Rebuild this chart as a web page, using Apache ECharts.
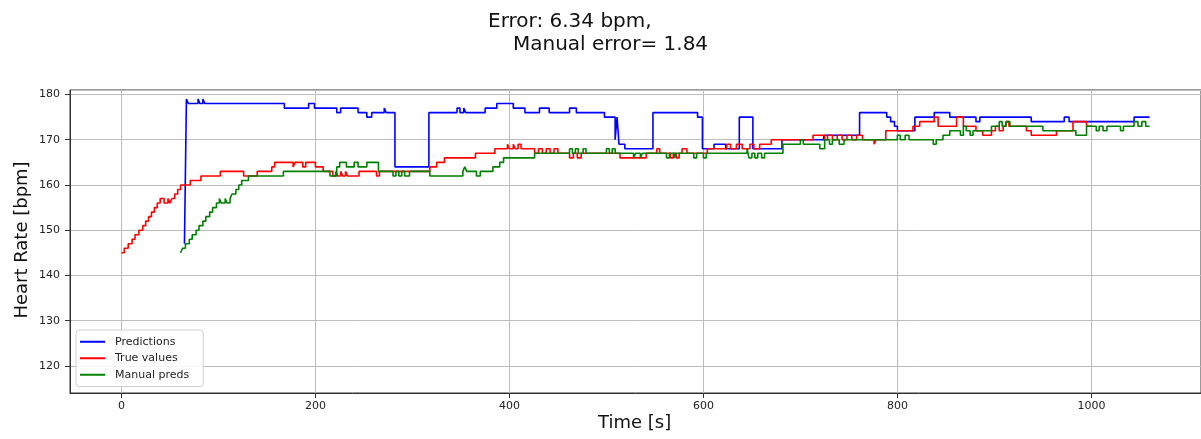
<!DOCTYPE html>
<html>
<head>
<meta charset="utf-8">
<script src="https://cdn.jsdelivr.net/npm/echarts@6/dist/echarts.min.js"></script>
<style>
html,body{margin:0;padding:0;background:#fff;}
#chart{width:1201px;height:439px;}
</style>
</head>
<body>
<div id="chart"></div>
<script>
// ---- Data ----
var titleLine1 = 'Error: 6.34 bpm,';
var titleLine2 = 'Manual error= 1.84';
var xAxisTitle = 'Time [s]';
var yAxisTitle = 'Heart Rate [bpm]';
var seriesNames = ['Predictions', 'True values', 'Manual preds'];

var predTimes  = [65,67,69,79,81,84,86,168,193,199,222,226,244,253,258,271,273,282,317,346,349,353,355,375,387,404,416,431,441,462,469,498,509,511,513,519,548,594,599,611,623,637,651,681,724,761,789,793,797,800,818,838,854,881,885,938,972,977,1044,1060];
var predValues = [147,179,178,179,178,179,178,177,178,177,176,177,176,175,176,177,176,164,176,177,176,177,176,177,178,177,176,177,176,177,176,175,170,175,169,168,176,175,168,169,168,175,168,170,171,176,175,174,173,172,175,176,175,174,175,174,175,174,175,175];

var trueTimes  = [0,3,7,11,14,18,22,25,28,31,34,37,40,44,48,50,52,55,58,61,71,82,102,126,140,155,158,177,179,187,190,200,208,218,221,223,226,228,231,233,245,263,266,318,325,333,365,385,398,400,404,406,409,412,426,430,434,438,442,446,450,462,466,470,474,514,541,552,555,566,569,572,575,578,583,604,624,628,634,640,648,652,658,670,713,725,728,733,738,743,748,753,758,764,776,778,788,816,823,838,842,861,868,881,888,897,901,905,909,912,915,933,938,964,981,995,1000];
var trueValues = [145,146,147,148,149,150,151,152,153,154,155,156,157,156,157,156,157,158,159,160,161,162,163,162,163,164,165,164,165,164,165,164,163,162,163,162,163,162,163,162,163,162,163,164,165,166,167,168,169,168,169,168,169,168,167,168,167,168,167,168,167,166,167,166,167,166,167,168,167,166,167,166,167,168,167,168,169,168,169,168,169,168,169,170,171,170,171,170,171,170,171,170,171,170,169,170,172,173,174,175,173,175,173,172,171,172,173,172,173,174,173,172,171,172,174,173,173];

var manualTimes  = [61,63,66,70,73,77,80,84,87,91,94,98,101,103,107,109,112,114,118,121,124,131,167,215,222,225,232,240,244,253,265,280,283,286,289,292,297,318,352,354,356,366,370,383,390,394,426,462,465,468,471,476,479,500,503,506,509,528,530,535,537,562,565,570,572,590,593,600,603,645,647,650,653,656,660,663,682,700,703,720,725,730,733,740,745,800,803,808,812,837,840,847,854,865,868,871,875,878,897,905,908,912,916,950,984,995,1005,1008,1012,1016,1030,1033,1044,1048,1052,1056,1060];
var manualValues = [145,146,147,148,149,150,151,152,153,154,155,156,157,156,157,156,157,158,159,160,161,162,163,162,164,165,164,165,164,165,163,162,163,162,163,162,163,162,163,164,163,162,163,164,165,166,167,168,167,168,167,168,167,168,167,168,167,166,167,166,167,166,167,166,167,166,167,166,167,168,166,167,166,167,166,167,169,170,169,168,170,169,170,169,170,171,170,171,170,169,170,171,172,171,173,172,171,172,173,174,173,174,173,172,171,173,172,173,172,173,172,173,174,173,174,173,173];

var seriesColors = ['#0000ff', '#ff0000', '#008000'];

function zip(t, v) { return t.map(function (x, i) { return [x, v[i]]; }); }

var FONT = 'DejaVu Sans';
var chart = echarts.init(document.getElementById('chart'), null, {renderer: 'canvas'});

var option = {
  animation: false,
  backgroundColor: '#ffffff',
  grid: {
    left: 70, right: 0, top: 90, bottom: 46,
    show: true, borderColor: '#333333', borderWidth: 1, backgroundColor: 'transparent'
  },
  xAxis: {
    type: 'value', min: -53, max: 1113, minInterval: 200, maxInterval: 200,
    axisLine: {show: true, onZero: false, lineStyle: {color: '#333333', width: 1}},
    axisTick: {show: true, length: 5, lineStyle: {color: '#333333'}},
    axisLabel: {show: true, showMinLabel: false, showMaxLabel: false, margin: 8, color: '#222222', fontSize: 11, fontFamily: FONT,
                formatter: function (v) { return String(v); }},
    splitLine: {show: true, lineStyle: {color: '#bdbdbd', width: 1}}
  },
  yAxis: {
    type: 'value', min: 114, max: 181, minInterval: 10, maxInterval: 10,
    axisLine: {show: true, onZero: false, lineStyle: {color: '#333333', width: 1}},
    axisTick: {show: true, length: 5, lineStyle: {color: '#333333'}},
    axisLabel: {show: true, showMinLabel: false, showMaxLabel: false, margin: 10, color: '#222222', fontSize: 11, fontFamily: FONT,
                formatter: function (v) { return String(v); }},
    splitLine: {show: true, lineStyle: {color: '#bdbdbd', width: 1}}
  },
  legend: {
    orient: 'vertical', left: 76, top: 330,
    padding: [5, 14, 5, 4], itemGap: 3, itemWidth: 25, itemHeight: 2,
    backgroundColor: 'rgba(255,255,255,0.85)', borderColor: '#d0d0d0', borderWidth: 1, borderRadius: 3,
    icon: 'rect',
    textStyle: {fontSize: 11, fontFamily: FONT, color: '#222222', lineHeight: 13.5, padding: [0, 0, 0, 5]},
    data: seriesNames
  },
  series: [
    {name: seriesNames[0], type: 'line', step: 'end', symbol: 'none', data: zip(predTimes, predValues),
     itemStyle: {color: seriesColors[0]}, lineStyle: {color: seriesColors[0], width: 1.6}},
    {name: seriesNames[1], type: 'line', step: 'end', symbol: 'none', data: zip(trueTimes, trueValues),
     itemStyle: {color: seriesColors[1]}, lineStyle: {color: seriesColors[1], width: 1.6}},
    {name: seriesNames[2], type: 'line', step: 'end', symbol: 'none', data: zip(manualTimes, manualValues),
     itemStyle: {color: seriesColors[2]}, lineStyle: {color: seriesColors[2], width: 1.6}}
  ],
  graphic: [
    {type: 'text', left: 488, top: 12, style: {text: titleLine1, fontSize: 20, fontFamily: FONT, fill: '#111111'}},
    {type: 'text', left: 513, top: 35, style: {text: titleLine2, fontSize: 20, fontFamily: FONT, fill: '#111111'}},
    {type: 'text', left: 598, top: 414, style: {text: xAxisTitle, fontSize: 18, fontFamily: FONT, fill: '#111111'}},
    {type: 'text', x: 22, y: 240, rotation: Math.PI / 2,
     style: {text: yAxisTitle, fontSize: 18, fontFamily: FONT, fill: '#111111', align: 'center', verticalAlign: 'middle'}}
  ]
};
chart.setOption(option);
</script>
</body>
</html>
